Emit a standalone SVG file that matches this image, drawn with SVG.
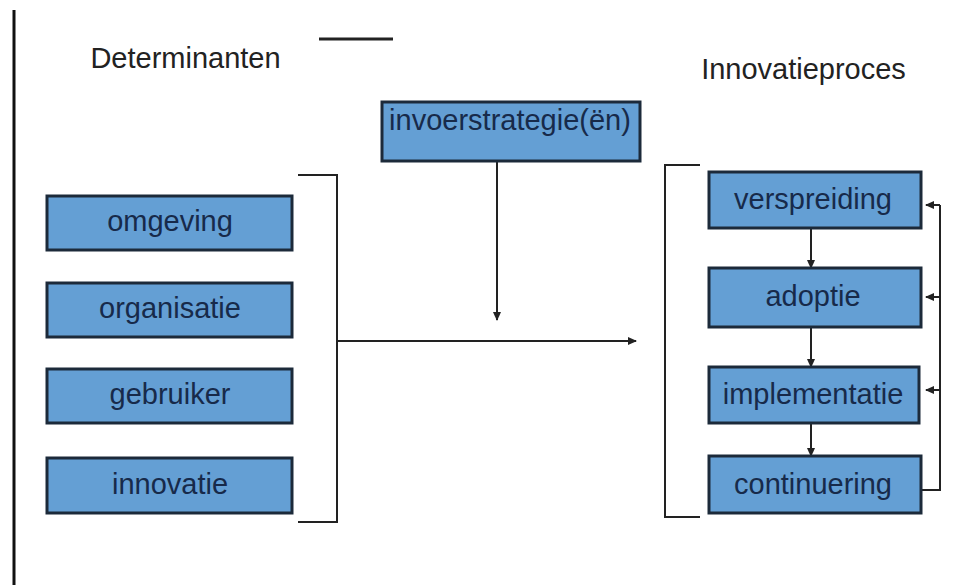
<svg xmlns="http://www.w3.org/2000/svg" width="962" height="585" viewBox="0 0 962 585">
<style>
.box{fill:#649fd4;stroke:#1c2a3a;stroke-width:3}
.bt{font-family:"Liberation Sans",Arial,sans-serif;font-size:29px;fill:#172a4a;text-anchor:middle}
.title{font-family:"Liberation Sans",Arial,sans-serif;font-size:29px;fill:#222;text-anchor:middle}
.ln{fill:none;stroke:#222;stroke-width:2}
</style>
<defs>
<marker id="ah" markerUnits="userSpaceOnUse" markerWidth="9" markerHeight="8" refX="8" refY="4" orient="auto">
<path d="M0,0 L9,4 L0,8 z" fill="#222"/>
</marker>
</defs>
<rect width="962" height="585" fill="#fff"/>
<line x1="14" y1="10" x2="14" y2="585" stroke="#111" stroke-width="3"/>
<line x1="319" y1="39" x2="393" y2="39" stroke="#222" stroke-width="3"/>
<text class="title" x="185.5" y="68">Determinanten</text>
<text class="title" x="803.5" y="79">Innovatieproces</text>
<g id="connectors">
<path class="ln" d="M298,175 H337 V522 H298"/>
<path class="ln" d="M700,165 H665 V517 H700"/>
<line class="ln" x1="337" y1="341" x2="636" y2="341" marker-end="url(#ah)"/>
<line class="ln" x1="497" y1="161" x2="497" y2="320" marker-end="url(#ah)"/>
<line class="ln" x1="811" y1="228" x2="811" y2="268" marker-end="url(#ah)"/>
<line class="ln" x1="811" y1="327" x2="811" y2="367" marker-end="url(#ah)"/>
<line class="ln" x1="811" y1="423" x2="811" y2="456" marker-end="url(#ah)"/>
<path class="ln" d="M922,490 H940 V205"/>
<line class="ln" x1="940" y1="205" x2="926" y2="205" marker-end="url(#ah)"/>
<line class="ln" x1="940" y1="297" x2="926" y2="297" marker-end="url(#ah)"/>
<line class="ln" x1="940" y1="390" x2="926" y2="390" marker-end="url(#ah)"/>
</g>
<g id="invoerstrategie"><rect class="box" x="382" y="102" width="258" height="59"/><text class="bt" x="510" y="130">invoerstrategie(ën)</text></g>
<g id="omgeving"><rect class="box" x="47" y="196" width="245" height="54"/><text class="bt" x="170" y="231">omgeving</text></g>
<g id="organisatie"><rect class="box" x="47" y="283" width="245" height="54"/><text class="bt" x="170" y="318">organisatie</text></g>
<g id="gebruiker"><rect class="box" x="47" y="369" width="245" height="54"/><text class="bt" x="170" y="404">gebruiker</text></g>
<g id="innovatie"><rect class="box" x="47" y="458" width="245" height="55"/><text class="bt" x="170" y="494">innovatie</text></g>
<g id="verspreiding"><rect class="box" x="709" y="172" width="212" height="56"/><text class="bt" x="813" y="209">verspreiding</text></g>
<g id="adoptie"><rect class="box" x="709" y="268" width="212" height="59"/><text class="bt" x="813" y="306">adoptie</text></g>
<g id="implementatie"><rect class="box" x="709" y="367" width="210" height="56"/><text class="bt" x="813" y="404">implementatie</text></g>
<g id="continuering"><rect class="box" x="709" y="456" width="212" height="57"/><text class="bt" x="813" y="494">continuering</text></g>
</svg>
